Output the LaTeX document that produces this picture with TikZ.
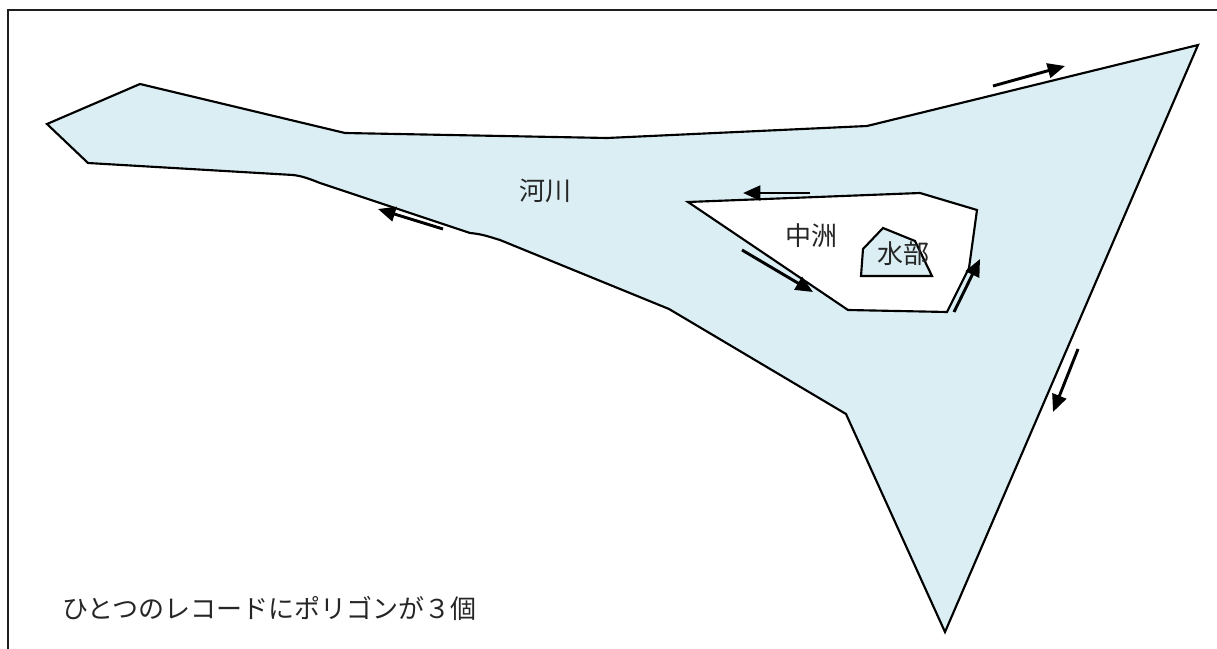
\documentclass[tikz,border=0pt]{standalone}
\usepackage{fontspec}
\newfontfamily\jpfont{Noto Sans CJK JP}
\usetikzlibrary{arrows.meta}
\definecolor{riverblue}{RGB}{218,238,243}
\begin{document}
\begin{tikzpicture}[x=0.75pt,y=0.75pt,yscale=-1,xscale=1]
\useasboundingbox (0,0) rectangle (1217,649);

%Straight Lines (frame)
\draw [line width=1.8pt,color={rgb, 255:red, 30; green, 30; blue, 30 }] (8,649) -- (8,10) -- (1217,10) ;
%Shape: Polygon (river)
\draw [line width=1.6pt,fill=riverblue] (47,124) -- (140,84) -- (345,133) -- (607,138) -- (867,126) -- (1198,45) -- (945,632) -- (846,414) -- (669,309) -- (500,240) .. controls (490,237) and (482,234) .. (470,233) -- (320,183) .. controls (310,179) and (302,176) .. (293,175) -- (88,163) -- cycle ;
%Shape: Polygon (island)
\draw [line width=1.6pt,fill=white] (688,202) -- (920,193) -- (977,210) -- (969,268) -- (947,312) -- (848,310) -- cycle ;
%Shape: Polygon (water part)
\draw [line width=1.6pt,fill=riverblue] (883,228) -- (915,241) -- (932,276) -- (861,276) -- (863,249) -- cycle ;

%Straight Lines (arrows)
\draw [line width=2.2pt,-{Triangle[length=13pt,width=11pt]}] (993,86) -- (1065,66) ;
\draw [line width=2.2pt,-{Triangle[length=13pt,width=11pt]}] (1078,349) -- (1053,412) ;
\draw [line width=2.2pt,-{Triangle[length=13pt,width=11pt]}] (810,193) -- (743,193) ;
\draw [line width=2.2pt,-{Triangle[length=13pt,width=11pt]}] (742,250) -- (813,292) ;
\draw [line width=2.2pt,-{Triangle[length=13pt,width=11pt]}] (954,312) -- (980,259) ;
\draw [line width=2.2pt,-{Triangle[length=13pt,width=11pt]}] (443,229) -- (378,209) ;

% Text Node
\draw (545,191) node [inner sep=0.75pt,text=black!85] (river) {\jpfont\fontsize{19.5pt}{20pt}\selectfont 河川};
% Text Node
\draw (811,236) node [inner sep=0.75pt,text=black!85] (island) {\jpfont\fontsize{19.5pt}{20pt}\selectfont 中洲};
% Text Node
\draw (903,254) node [inner sep=0.75pt,text=black!85] (water) {\jpfont\fontsize{19.5pt}{20pt}\selectfont 水部};
% Text Node
\draw (61,608) node [anchor=west][inner sep=0.75pt,text=black!85] (note) {\jpfont\fontsize{19.5pt}{20pt}\selectfont ひとつのレコードにポリゴンが３個};

\end{tikzpicture}
\end{document}
